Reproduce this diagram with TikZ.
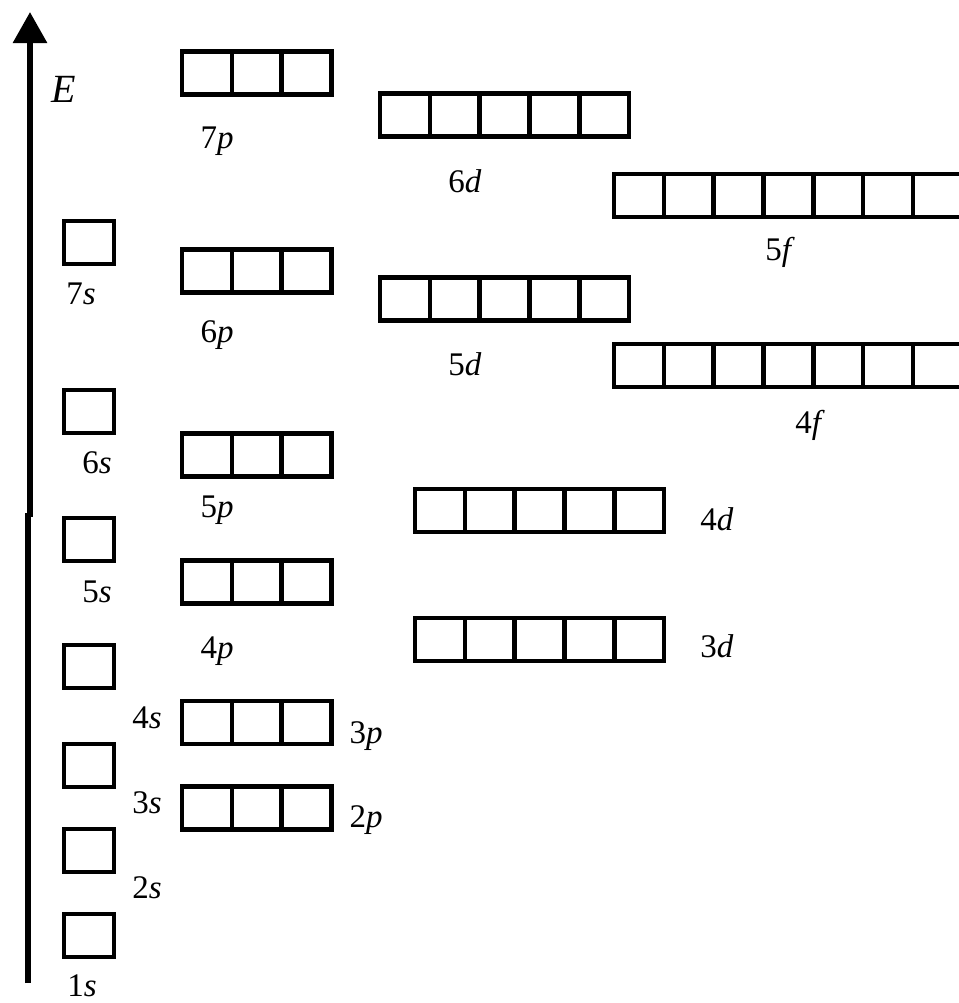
\documentclass[tikz,border=0pt]{standalone}
\usepackage{fontspec}
\setmainfont{Liberation Serif}
\usetikzlibrary{arrows.meta}
\begin{document}
\begin{tikzpicture}[x=0.5pt,y=-0.5pt,
  cell/.style={draw=black,line width=2.3pt,minimum width=24.9pt,minimum height=21.5pt,inner sep=0pt,outer sep=0pt},
  lbl/.style={anchor=base,inner sep=0pt,font=\fontsize{16.5}{19}\selectfont},
  axis/.style={line width=3pt}]
\useasboundingbox (0,0) rectangle (959,1003);
\clip (0,0) rectangle (959,1003);
% energy axis
\coordinate (ax0) at (28,983);
\coordinate (ax1) at (28,513);
\coordinate (ax2) at (30,517);
\coordinate (ax3) at (30,12);
\draw[axis] (ax0) -- (ax1);
\draw[axis,-{Triangle[length=15.5pt,width=16.5pt]}] (ax2) -- (ax3);
\node[lbl,font=\fontsize{20}{24}\selectfont] (E) at (64,102) {\textit{E}};
% s orbitals
\foreach \n/\y in {7/242.5,6/411.5,5/539.5,4/666.5,3/765.5,2/850.5,1/935.5}
  \node[cell] (s\n) at (89,\y) {};
% p orbitals
\foreach \n/\y in {7/73,6/271,5/455,4/582,3/722.5,2/808}
  \foreach \k in {0,1,2}
    \node[cell] (p\n-\k) at ({206.9+49.8*\k},\y) {};
% d orbitals
\foreach \n/\x/\y in {6/380/115,5/380/299,4/415/510.5,3/415/639.5}
  \foreach \k in {0,...,4}
    \node[cell] (d\n-\k) at ({\x+24.9+49.8*\k},\y) {};
% f orbitals
\foreach \n/\y in {5/195.5,4/365.5}
  \foreach \k in {0,...,6}
    \node[cell] (f\n-\k) at ({614+24.9+49.8*\k},\y) {};
% labels
\node[lbl] (l7s) at (81,304) {7\textit{s}};
\node[lbl] (l6s) at (97,473) {6\textit{s}};
\node[lbl] (l5s) at (97,602) {5\textit{s}};
\node[lbl] (l4s) at (147,728) {4\textit{s}};
\node[lbl] (l3s) at (147,813) {3\textit{s}};
\node[lbl] (l2s) at (147,898) {2\textit{s}};
\node[lbl] (l1s) at (82,996) {1\textit{s}};
\node[lbl] (l7p) at (217,148) {7\textit{p}};
\node[lbl] (l6p) at (217,342) {6\textit{p}};
\node[lbl] (l5p) at (217,517) {5\textit{p}};
\node[lbl] (l4p) at (217,658) {4\textit{p}};
\node[lbl] (l3p) at (366,743) {3\textit{p}};
\node[lbl] (l2p) at (366,827) {2\textit{p}};
\node[lbl] (l6d) at (465,192) {6\textit{d}};
\node[lbl] (l5d) at (465,375) {5\textit{d}};
\node[lbl] (l4d) at (717,530) {4\textit{d}};
\node[lbl] (l3d) at (717,657) {3\textit{d}};
\node[lbl] (l5f) at (780,260) {5\textit{f}};
\node[lbl] (l4f) at (810,433) {4\textit{f}};
\end{tikzpicture}
\end{document}
